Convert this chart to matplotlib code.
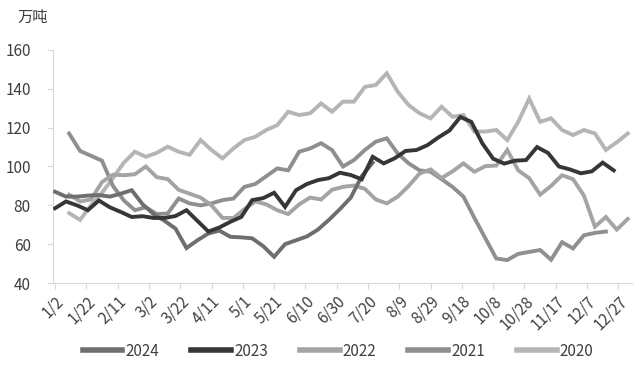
import matplotlib
matplotlib.use("Agg")
from matplotlib import pyplot as plt
import numpy as np

plt.rcParams['font.family'] = ['Noto Sans CJK SC', 'DejaVu Sans']

# x axis labels (every 20 days from 1/2)
tick_labels = ['1/2', '1/22', '2/11', '3/2', '3/22', '4/11', '5/1', '5/21', '6/10',
               '6/30', '7/20', '8/9', '8/29', '9/18', '10/8', '10/28', '11/17',
               '12/7', '12/27']

years = ['2024', '2023', '2022', '2021', '2020']
# first weekly observation, days after 1/2
start_day = {'2024': 0, '2023': 0, '2022': 9, '2021': 9, '2020': 9}

v2024 = [87, 84.5, 84.5, 85, 85.3, 84.5, 86, 87.8, 80.5, 75.5, 72, 68, 58, 62,
         65.5, 67, 63.8, 63.5, 63, 59, 53.5, 60, 62, 64, 67.5, 72.5, 78, 84,
         95, 102]

v2023 = [78.5, 82, 80, 77.5, 82.5, 79, 76.6, 74, 74.4, 73.5, 73.5, 74.5, 77.5,
         72, 66.5, 68.6, 71.5, 74, 82.7, 83.7, 86.5, 79.2, 87.8, 91, 93, 94,
         96.8, 95.6, 93.4, 105, 101.6, 104.2, 108, 108.5, 111, 115, 118.5,
         125.5, 123, 112, 104, 101.5, 103, 103.3, 110, 107, 100, 98.5, 96.5,
         97.5, 102, 98]

v2022 = [85.5, 82, 83, 92, 95.8, 95.5, 96, 100, 94.5, 93.5, 88, 86, 84, 80,
         73.5, 73.5, 78, 82, 80.5, 77.5, 75.5, 80.5, 84, 83, 88, 89.5, 90.2,
         88.5, 83, 81, 84.5, 90, 96.4, 98.5, 94, 97.5, 101.6, 97.3, 100.2,
         100.5, 108.5, 98, 94, 85.5, 90, 95.5, 93.5, 85, 69, 74, 67.5, 73]

v2021 = [117, 108, 105.5, 103, 90, 82.5, 77.5, 79, 75.5, 75.8, 83.5, 81, 80,
         81, 82.7, 83.5, 89.5, 91, 95, 99, 98, 107.6, 109.3, 112, 108.5, 100,
         103.3, 108.5, 112.8, 114.5, 106.7, 101.6, 98, 97.3, 93.5, 89.5, 84.5,
         73.5, 63, 52.6, 51.8, 55, 56, 57, 52, 61, 57.8, 64.6, 65.8, 66.5]

v2020 = [76, 72.5, 80, 86.5, 94, 102, 107.6, 105, 107, 110.2, 107.6, 106,
         113.6, 108.5, 104.2, 109.3, 113.6, 115.3, 118.8, 121.3, 128.2, 126.5,
         127.4, 132.5, 128.2, 133.4, 133.4, 141, 142, 148, 138.5, 131.6, 127.4,
         124.8, 130.8, 125.6, 126.5, 118, 118, 118.8, 113.6, 123, 135, 123,
         124.8, 118.8, 116.2, 118.8, 117, 108.5, 112.5, 117]

series = {'2024': v2024, '2023': v2023, '2022': v2022, '2021': v2021, '2020': v2020}
colors = {'2024': '#6e6e6e', '2023': '#363636', '2022': '#a4a4a4',
          '2021': '#8f8f8f', '2020': '#b5b5b5'}
zorders = {'2024': 4, '2023': 6, '2022': 3, '2021': 2, '2020': 1}

fig = plt.figure(figsize=(6.39, 3.69), dpi=100)
ax = fig.add_axes([53/639, 1-283/369, (632-53)/639, (283-50)/369])

for y in years:
    vals = series[y]
    x = start_day[y] + 7*np.arange(len(vals))
    ax.plot(x, vals, color=colors[y], lw=2.8, label=y, zorder=zorders[y],
            solid_joinstyle='miter')

ax.set_ylim(40, 160)
ax.set_yticks(np.arange(40, 161, 20))
ax.set_xlim(-1.3, 368.7)
ax.set_xticks(20*np.arange(len(tick_labels)))
ax.set_xticklabels(tick_labels, rotation=45, ha='right', rotation_mode='anchor')

for s in ['top', 'right']:
    ax.spines[s].set_visible(False)
for s in ['left', 'bottom']:
    ax.spines[s].set_color('#d9d9d9')
ax.tick_params(axis='y', length=4, color='#d9d9d9', labelsize=11,
               labelcolor='#404040', pad=12)
ax.tick_params(axis='x', length=4, color='#d9d9d9', labelsize=11,
               labelcolor='#404040', pad=3)

fig.text(17/639, 1-17/369, '万吨', fontsize=11, color='#404040', va='center')

fig.legend(loc='center', bbox_to_anchor=(338/639, 1-351/369), ncol=5,
           frameon=False, fontsize=11, handlelength=2.6, handletextpad=0.2,
           columnspacing=2.1, labelcolor='#404040')
for line in fig.legends[0].get_lines():
    line.set_linewidth(4)

fig.savefig('out.png', dpi=100)
